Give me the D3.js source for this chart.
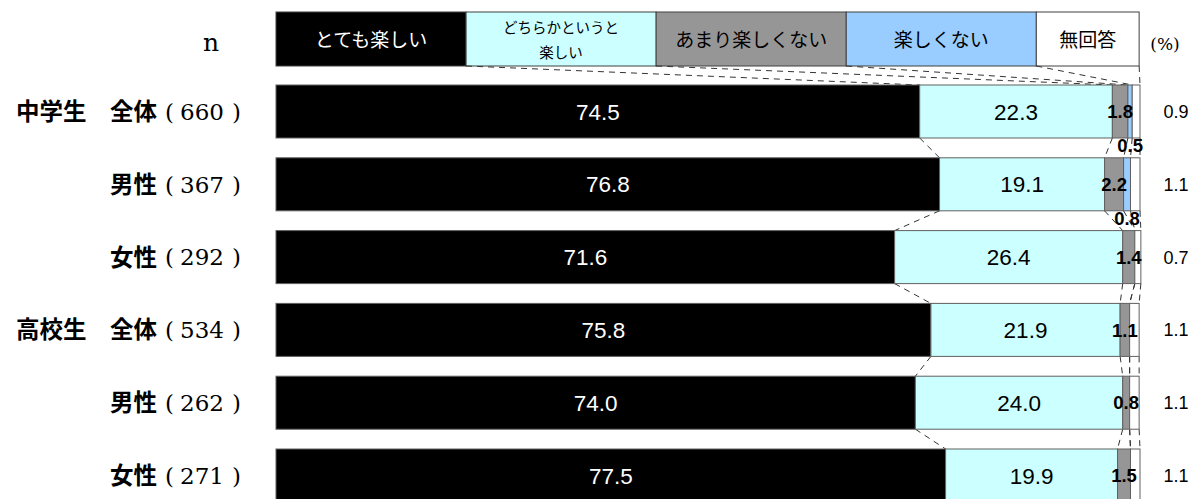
<!DOCTYPE html>
<html><head><meta charset="utf-8">
<script src="https://cdn.jsdelivr.net/npm/d3@7"></script>
<style>body{margin:0;background:#fff}svg{display:block}</style>
</head><body>
<script>
const categories = ["中学生　全体","男性","女性","高校生　全体","男性","女性"];
const nValues = [660,367,292,534,262,271];
const seriesNames = ["とても楽しい","どちらかというと楽しい","あまり楽しくない","楽しくない","無回答"];
const legendLines = [["とても楽しい"],["どちらかというと","楽しい"],["あまり楽しくない"],["楽しくない"],["無回答"]];
const veryFun = [74.5,76.8,71.6,75.8,74.0,77.5];
const somewhatFun = [22.3,19.1,26.4,21.9,24.0,19.9];
const notVeryFun = [1.8,2.2,1.4,1.1,0.8,1.5];
const notFun = [0.5,0.8,0,0,0,0];
const noAnswer = [0.9,1.1,0.7,1.1,1.1,1.1];

const colors = ["#000000","#ccffff","#969696","#99ccff","#ffffff"];
const series = [veryFun, somewhatFun, notVeryFun, notFun, noAnswer];
const W = 1193, H = 499;
const svg = d3.select("body").append("svg").attr("width", W).attr("height", H);

const x = d3.scaleLinear().domain([0,100]).range([276,1140]);
const y = d3.scaleBand().domain(d3.range(categories.length)).range([85,502]).paddingInner(0.272).paddingOuter(0);
const bw = y.bandwidth();

const rows = categories.map((c,i)=>{
  let cum = 0;
  const segs = series.map((s,k)=>{ const s0 = cum; cum += s[i]; return {k, v:s[i], x0:s0, x1:cum}; });
  return {i, c, segs};
});

// legend bar (layout widths in scale units)
const legendShares = [22,22,22,22,11.9];
let lc = 0;
const legend = legendShares.map((w,k)=>{ const a = lc; lc += w; return {k, x0:a, x1:lc}; });
const legTop = 12, legBot = 66;
const lg = svg.append("g");
lg.selectAll("rect").data(legend).join("rect")
  .attr("x", d=>x(d.x0)).attr("y", legTop).attr("width", d=>x(d.x1)-x(d.x0)).attr("height", legBot-legTop)
  .attr("fill", d=>colors[d.k]).attr("stroke","#404040").attr("stroke-width",1);
legend.forEach(d=>{
  const lines = legendLines[d.k];
  const cx = (x(d.x0)+x(d.x1))/2;
  const t = lg.append("text").attr("text-anchor","middle")
    .attr("font-family","'Noto Sans CJK JP', sans-serif")
    .attr("fill", d.k===0 ? "#fff" : "#000");
  if (lines.length===1) {
    t.attr("x",cx).attr("y",40).attr("dy","0.35em").attr("font-size",19).text(lines[0]);
  } else {
    t.attr("font-size",14.5);
    lines.forEach((ln,j)=>t.append("tspan").attr("x",cx).attr("y", j===0?27.5:53).attr("dy","0.35em").text(ln));
  }
});

// connector lines
const conn = svg.append("g").attr("stroke","#333").attr("stroke-width",1).attr("stroke-dasharray","6,5").attr("fill","none");
for (let k=0;k<5;k++){
  conn.append("line").attr("x1",x(legend[k].x1)).attr("y1",legBot)
    .attr("x2",x(rows[0].segs[k].x1)).attr("y2",y(0));
}
for (let i=0;i<rows.length-1;i++){
  for (let k=0;k<5;k++){
    conn.append("line").attr("x1",x(rows[i].segs[k].x1)).attr("y1",y(i)+bw)
      .attr("x2",x(rows[i+1].segs[k].x1)).attr("y2",y(i+1));
  }
}

// bars
const bars = svg.append("g");
const sans = "'Liberation Sans', Arial, sans-serif";
const serif = "'DejaVu Serif', 'Liberation Serif', serif";
rows.forEach(r=>{
  const g = bars.append("g");
  g.selectAll("rect").data(r.segs.filter(s=>s.v>0)).join("rect")
    .attr("x", s=>x(s.x0)).attr("y", y(r.i)).attr("width", s=>x(s.x1)-x(s.x0)).attr("height", bw)
    .attr("fill", s=>colors[s.k]).attr("stroke","#606060").attr("stroke-width",1);
  const cy = y(r.i)+bw/2;
  r.segs.forEach(s=>{
    if (s.k<=1) {
      g.append("text").attr("x",(x(s.x0)+x(s.x1))/2).attr("y",cy).attr("dy","0.36em")
        .attr("text-anchor","middle").attr("font-family",sans)
        .attr("font-size",22.5).attr("fill", s.k===0?"#fff":"#000").text(s.v.toFixed(1));
    } else if (s.k===2) {
      g.append("text").attr("x",(x(s.x0)+x(s.x1))/2).attr("y",cy).attr("dy","0.36em")
        .attr("text-anchor","middle").attr("font-family",sans)
        .attr("font-weight","bold").attr("font-size",18.5).attr("fill","#000").text(s.v.toFixed(1));
    } else if (s.k===3 && s.v>0) {
      g.append("text").attr("x",(x(s.x0)+x(s.x1))/2).attr("y",y(r.i)+bw+7.5).attr("dy","0.36em")
        .attr("text-anchor","middle").attr("font-family",sans)
        .attr("font-weight","bold").attr("font-size",18.5).attr("fill","#000").text(s.v.toFixed(1));
    } else if (s.k===4) {
      g.append("text").attr("x",1176).attr("y",cy).attr("dy","0.36em")
        .attr("text-anchor","middle").attr("font-family",sans)
        .attr("font-size",18).attr("fill","#000").text(s.v.toFixed(1));
    }
  });
  // left labels
  svg.append("text").attr("x",157).attr("y",cy).attr("dy","0.36em").attr("text-anchor","end")
    .attr("font-family","'Noto Sans CJK JP', sans-serif").attr("font-weight","bold").attr("font-size",23.5)
    .attr("fill","#000").text(r.c);
  svg.append("text").attr("x",165).attr("y",cy).attr("dy","0.36em").attr("text-anchor","start")
    .attr("font-family",serif).attr("font-size",23).attr("fill","#000").text("(");
  svg.append("text").attr("x",202).attr("y",cy).attr("dy","0.36em").attr("text-anchor","middle")
    .attr("font-family",serif).attr("font-size",23).attr("fill","#000").text(nValues[r.i]);
  svg.append("text").attr("x",241).attr("y",cy).attr("dy","0.36em").attr("text-anchor","end")
    .attr("font-family",serif).attr("font-size",23).attr("fill","#000").text(")");
});

svg.append("text").attr("x",211).attr("y",51).attr("text-anchor","middle")
  .attr("font-family",serif).attr("font-size",25).text("n");
svg.append("text").attr("x",1165).attr("y",44).attr("dy","0.35em").attr("text-anchor","middle")
  .attr("font-family",serif).attr("font-size",17).text("(%)");
</script>
</body></html>
